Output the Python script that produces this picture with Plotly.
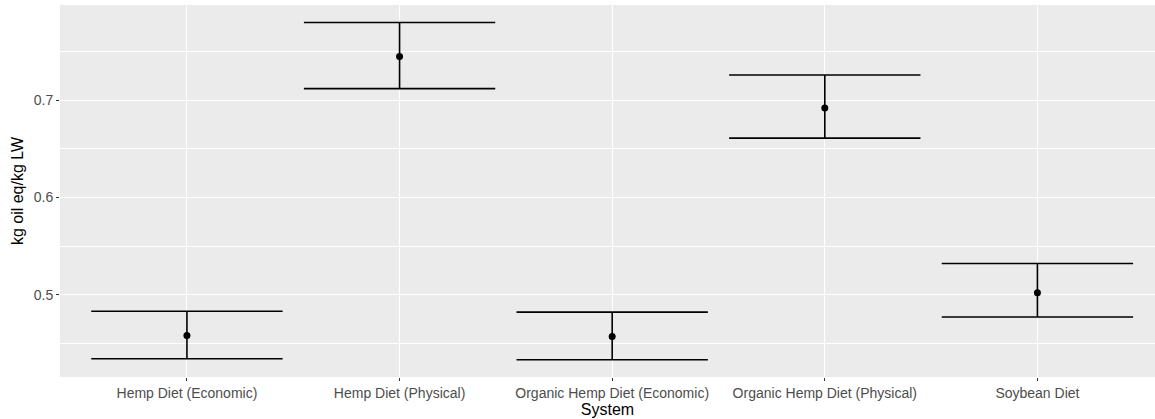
import plotly.graph_objects as go

systems = ["Hemp Diet (Economic)", "Hemp Diet (Physical)", "Organic Hemp Diet (Economic)",
           "Organic Hemp Diet (Physical)", "Soybean Diet"]
mean_vals = [0.458, 0.745, 0.457, 0.692, 0.502]
lower_vals = [0.434, 0.712, 0.433, 0.661, 0.477]
upper_vals = [0.483, 0.780, 0.482, 0.726, 0.532]
y_ticks = [0.5, 0.6, 0.7]
y_tick_labels = ["0.5", "0.6", "0.7"]

W, H = 1155, 419
ml, mr, mt, mb = 60, 0, 5, 42
x_range = [-0.597, 4.553]
y_range = [0.4153, 0.798]
px_per_unit = (W - ml - mr) / (x_range[1] - x_range[0])
cap_half_px = 0.45 * px_per_unit

fig = go.Figure()
fig.add_trace(go.Scatter(
    x=systems, y=mean_vals, mode="markers",
    marker=dict(color="black", size=7),
    error_y=dict(type="data", symmetric=False,
                 array=[u - m for u, m in zip(upper_vals, mean_vals)],
                 arrayminus=[m - l for m, l in zip(mean_vals, lower_vals)],
                 color="black", thickness=1.6, width=cap_half_px),
    showlegend=False, hoverinfo="x+y"))

font_family = "Liberation Sans, Arial, Helvetica, sans-serif"
fig.update_layout(
    width=W, height=H,
    margin=dict(l=ml, r=mr, t=mt, b=mb),
    paper_bgcolor="white", plot_bgcolor="#EBEBEB",
    font=dict(family=font_family, color="#4D4D4D", size=14),
    xaxis=dict(type="category", categoryorder="array", categoryarray=systems,
               range=x_range, showgrid=True, gridcolor="white", gridwidth=1.3,
               zeroline=False, showline=False,
               ticks="outside", ticklen=3, tickwidth=1.1, tickcolor="#333333",
               tickfont=dict(size=14, color="#4D4D4D"),
               title=dict(text="System", font=dict(size=16, color="black"), standoff=1),
               automargin=False),
    yaxis=dict(range=y_range, tickvals=y_ticks, ticktext=y_tick_labels,
               showgrid=True, gridcolor="white", gridwidth=1.3,
               minor=dict(tickvals=[0.45, 0.55, 0.65, 0.75], showgrid=True,
                          gridcolor="white", gridwidth=0.6, ticks=""),
               zeroline=False, showline=False,
               ticks="outside", ticklen=3, tickwidth=1.1, tickcolor="#333333",
               tickfont=dict(size=14, color="#4D4D4D"),
               title=dict(text="kg oil eq/kg LW", font=dict(size=16, color="black"), standoff=6),
               automargin=False),
)

fig.write_html("out.html", config={"displayModeBar": False},
               post_script="document.body.style.margin='0';document.body.style.overflow='hidden';")
